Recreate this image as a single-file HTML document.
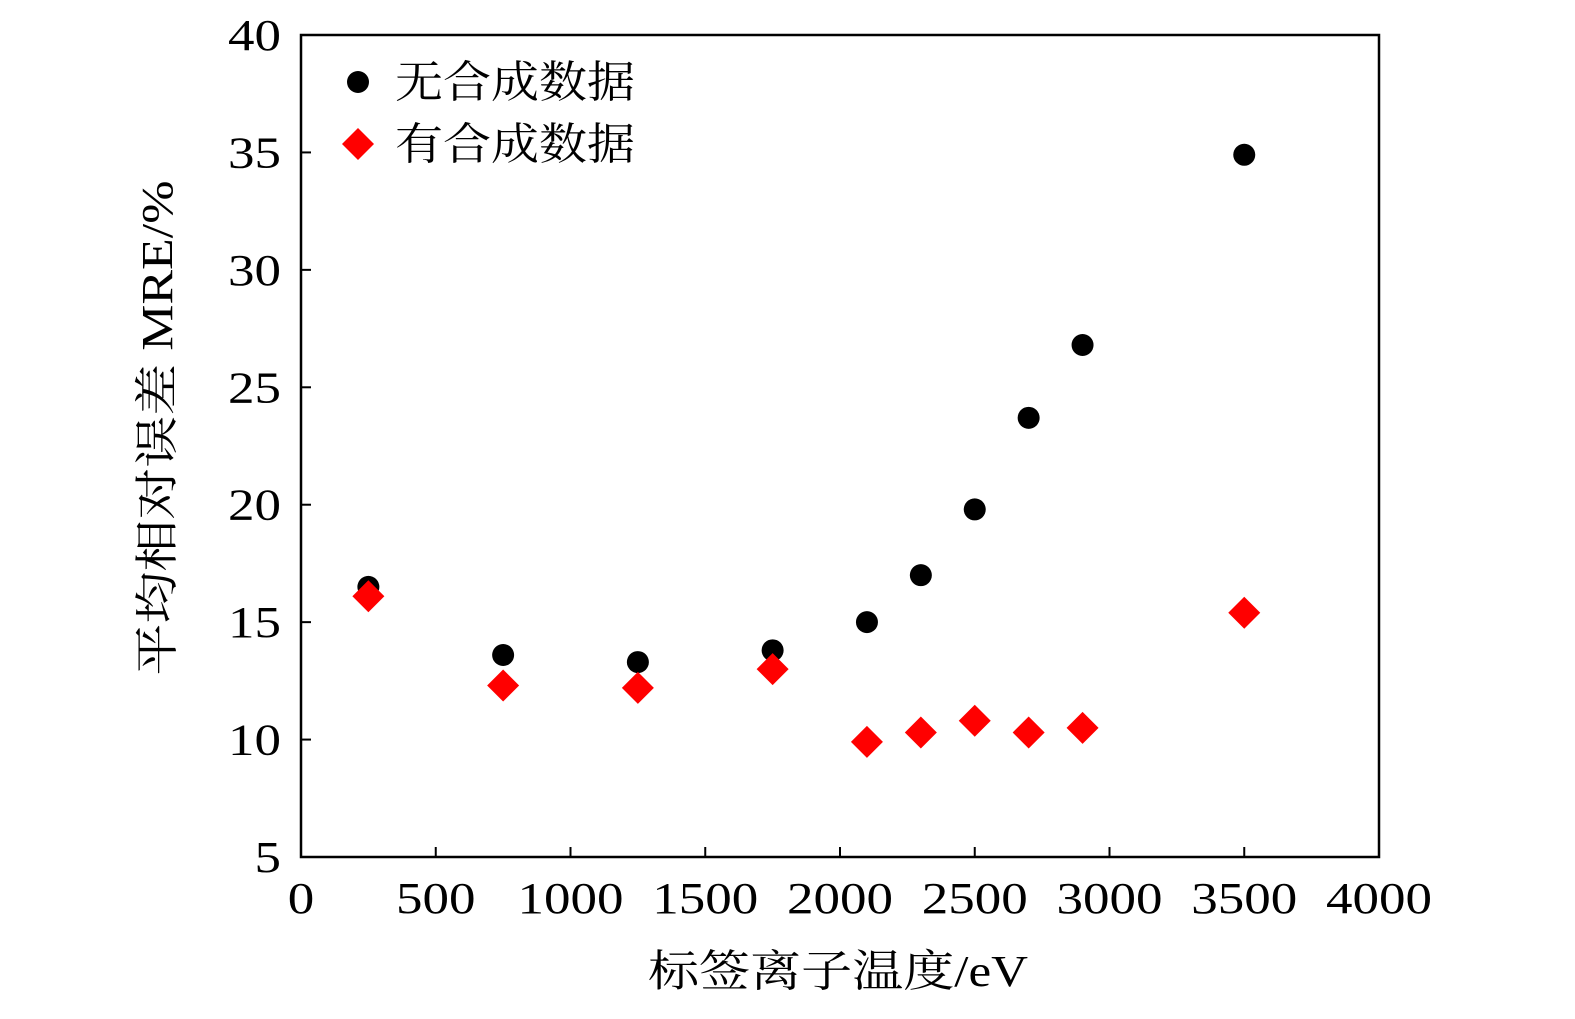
<!DOCTYPE html>
<html><head><meta charset="utf-8"><style>
html,body{margin:0;padding:0;background:#fff;}
svg text{font-family:"Liberation Serif","Noto Serif CJK SC",serif;fill:#000;}
</style></head><body>
<svg id="chart" width="1575" height="1014" xmlns="http://www.w3.org/2000/svg">
<rect x="301" y="35" width="1078" height="822" fill="none" stroke="#000" stroke-width="2.5"/>
<g id="ticks"></g>
<g id="marks"></g>
<text x="838" y="986" font-size="44" text-anchor="middle" textLength="380" lengthAdjust="spacingAndGlyphs">标签离子温度/eV</text>
<text transform="translate(172,428) rotate(-90)" font-size="44" text-anchor="middle" textLength="495" lengthAdjust="spacingAndGlyphs">平均相对误差 MRE/%</text>
<g>
<circle cx="358" cy="82" r="11" fill="#000"/>
<text x="395" y="97" font-size="44" textLength="240" lengthAdjust="spacingAndGlyphs">无合成数据</text>
<polygon points="358,128 374,144 358,160 342,144" fill="#f00"/>
<text x="395" y="159" font-size="44" textLength="240" lengthAdjust="spacingAndGlyphs">有合成数据</text>
</g>
</svg>
<script>
const xValues=[250,750,1250,1750,2100,2300,2500,2700,2900,3500];
const withoutSynth=[16.5,13.6,13.3,13.8,15.0,17.0,19.8,23.7,26.8,34.9];
const withSynth=[16.1,12.3,12.2,13.0,9.9,10.3,10.8,10.3,10.5,15.4];
const xTicks=[0,500,1000,1500,2000,2500,3000,3500,4000];
const yTicks=[5,10,15,20,25,30,35,40];
const NS="http://www.w3.org/2000/svg";
function sx(v){return 301+(v-0)/4000*1078;}
function sy(v){return 857-(v-5)/35*822;}
const tg=document.getElementById('ticks'), mg=document.getElementById('marks');
function mk(tag,attrs,parent){const e=document.createElementNS(NS,tag);for(const k in attrs)e.setAttribute(k,attrs[k]);parent.appendChild(e);return e;}
xTicks.forEach(t=>{
  const l=mk('line',{x1:sx(t),x2:sx(t),y1:857,y2:847,stroke:'#000','stroke-width':2},tg);
  
  
  const s=String(t);
  const tx=mk('text',{x:sx(t),y:913,'font-size':44,'text-anchor':'middle',textLength:s.length*26.5,lengthAdjust:'spacingAndGlyphs'},tg);
  tx.textContent=s;
  
  
});
yTicks.forEach(t=>{
  const l=mk('line',{x1:301,x2:311,y1:sy(t),y2:sy(t),stroke:'#000','stroke-width':2},tg);
  
  
  const s=String(t);
  const tx=mk('text',{x:281,y:sy(t)+15,'font-size':44,'text-anchor':'end',textLength:s.length*26.5,lengthAdjust:'spacingAndGlyphs'},tg);
  tx.textContent=s;
  
  
});
xValues.forEach((x,i)=>{
  const c=mk('circle',{cx:sx(x),cy:sy(withoutSynth[i]),r:11,fill:'#000'},mg);
  
  
});
xValues.forEach((x,i)=>{
  const px=sx(x),py=sy(withSynth[i]);
  const p=mk('polygon',{points:`${px},${py-16} ${px+16},${py} ${px},${py+16} ${px-16},${py}`,fill:'#f00'},mg);
  
  
});
</script>
</body></html>
